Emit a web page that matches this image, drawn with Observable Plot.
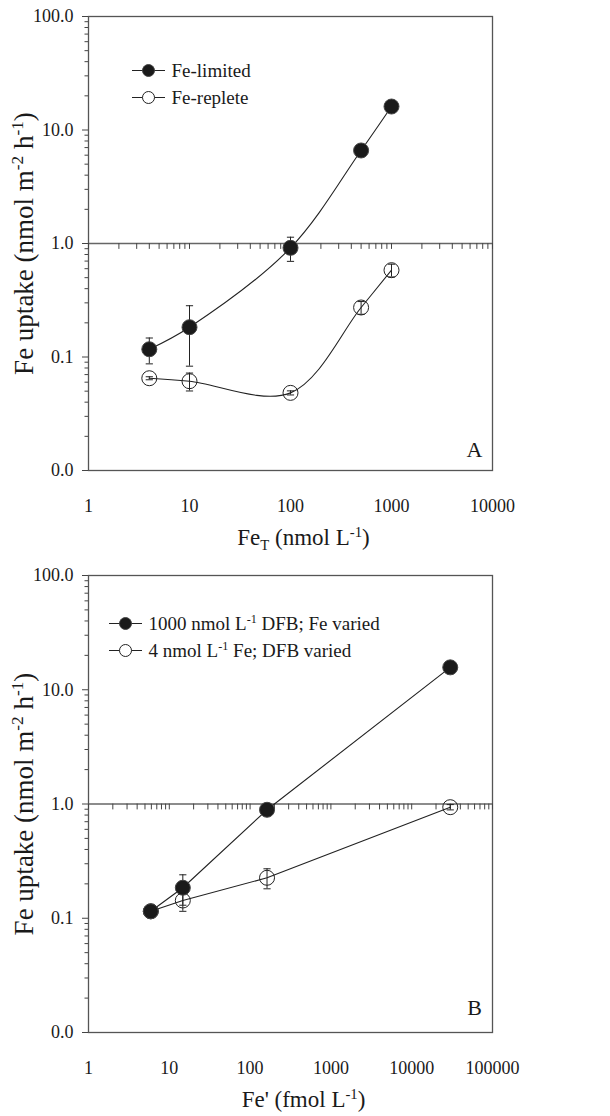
<!DOCTYPE html>
<html>
<head>
<meta charset="utf-8">
<script src="https://cdn.jsdelivr.net/npm/d3@7"></script>
<script src="https://cdn.jsdelivr.net/npm/@observablehq/plot@0.6"></script>
<style>
  html, body { margin: 0; padding: 0; background: #fff; }
  #chart { width: 610px; }
  #chart > div, #chart > svg { display: block; }
</style>
</head>
<body>
<div id="chart"></div>
<script>
// ---------- Data ----------
// Panel A: x = Fe_T (nmol L-1)
const feT = [4, 10, 100, 500, 1000];
const feLimited = [0.117, 0.183, 0.916, 6.6, 16.1];
const feLimitedErr = [0.03, 0.1, 0.22, 0.6, 1.2];
const feReplete = [0.065, 0.0612, 0.0483, 0.273, 0.582];
const feRepleteErr = [0.002, 0.011, 0.002, 0.035, 0.075];

// Panel B: x = Fe' (fmol L-1)
const feFreeDFB = [5.9, 14.7, 162, 30000];
const dfbFixedFeVaried = [0.115, 0.185, 0.89, 15.7];
const dfbFixedFeVariedErr = [0.01, 0.055, 0.05, 0.5];
const feFreeFe = [5.9, 14.7, 162, 30000];
const feFixedDfbVaried = [0.115, 0.143, 0.226, 0.938];
const feFixedDfbVariedErr = [0.002, 0.028, 0.045, 0.05];

// Tick labels
const yTicks = [0.01, 0.1, 1, 10, 100];
const yTickLabels = ["0.0", "0.1", "1.0", "10.0", "100.0"];
const xTicksA = [1, 10, 100, 1000, 10000];
const xTickLabelsA = ["1", "10", "100", "1000", "10000"];
const xTicksB = [1, 10, 100, 1000, 10000, 100000];
const xTickLabelsB = ["1", "10", "100", "1000", "10000", "100000"];

// Text
const legendA = ["Fe-limited", "Fe-replete"];
const legendB = ["1000 nmol L^{-1} DFB; Fe varied", "4 nmol L^{-1} Fe; DFB varied"];
const yTitle = "Fe uptake (nmol m^{-2} h^{-1})";
const xTitleA = "Fe_{T} (nmol L^{-1})";
const xTitleB = "Fe' (fmol L^{-1})";

// ---------- helpers ----------
const FONT = "'Liberation Serif', 'Times New Roman', serif";
const INK = "#1a1a1a";
const hline = { draw(ctx, size) { const r = Math.sqrt(size / Math.PI); ctx.moveTo(-r, 0); ctx.lineTo(r, 0); } };
const tickShape = { draw(ctx, l) { ctx.moveTo(0, 0); ctx.lineTo(0, -l); } };

function minorTicks(lo, hi) {
  const out = [];
  for (let e = Math.log10(lo); e < Math.log10(hi); e++) {
    for (let k = 2; k <= 9; k++) out.push(k * Math.pow(10, e));
  }
  return out;
}
function rows(xs, ys, es) { return xs.map((x, i) => ({ x, y: ys[i], e: es[i] })); }

function richify(svg) {
  d3.select(svg).selectAll("text").each(function () {
    const s = this.textContent;
    if (!/[\^_]\{/.test(s)) return;
    const fs = parseFloat(getComputedStyle(this).fontSize) || 18;
    const el = d3.select(this);
    el.text(null);
    const re = /([\^_])\{([^}]*)\}/g;
    let last = 0, m;
    const parts = [];
    while ((m = re.exec(s))) {
      if (m.index > last) parts.push({ t: s.slice(last, m.index), k: "" });
      parts.push({ t: m[2], k: m[1] });
      last = re.lastIndex;
    }
    if (last < s.length) parts.push({ t: s.slice(last), k: "" });
    let cur = 0;
    for (const p of parts) {
      const target = p.k === "^" ? -0.36 * fs : p.k === "_" ? 0.24 * fs : 0;
      const ts = el.append("tspan").attr("dy", target - cur).text(p.t);
      if (p.k) ts.attr("font-size", 0.64 * fs);
      cur = target;
    }
  });
}

function panel(cfg) {
  const xMinor = minorTicks(cfg.xDomain[0], cfg.xDomain[1]);
  const xAll = cfg.xTicks.concat(xMinor);
  const yMinor = minorTicks(0.01, 100);
  const marks = [
    Plot.frame({ stroke: "#555", strokeWidth: 1.3 }),
    Plot.ruleY([1], { stroke: "#666", strokeWidth: 1.6 }),
    Plot.vector(xAll, { x: d => d, y: () => 1, length: 5, rotate: 180, anchor: "start", shape: tickShape, stroke: "#444", strokeWidth: 1 }),
    Plot.axisY(yTicks, { tickSize: 6, tickPadding: 9, tickFormat: d => yTickLabels[yTicks.indexOf(d)], fontSize: 18, label: null, stroke: "#444" }),
    Plot.axisY(yMinor, { tickSize: 3.5, tickFormat: () => "", label: null, stroke: "#444" }),
    Plot.axisX(cfg.xTicks, { anchor: "bottom", tickSize: 0, tickPadding: 29, tickFormat: d => cfg.xTickLabels[cfg.xTicks.indexOf(d)], fontSize: 18, label: null })
  ];
  for (const s of cfg.series) marks.push(Plot.line(s.data, { x: "x", y: "y", curve: cfg.curve, stroke: "#222", strokeWidth: 1.1 }));
  for (const s of cfg.series) {
    marks.push(Plot.ruleX(s.data, { x: "x", y1: d => d.y - d.e, y2: d => d.y + d.e, stroke: "#222", strokeWidth: 1 }));
    marks.push(Plot.dot(s.data, { x: "x", y: d => d.y - d.e, symbol: hline, r: 3.6, stroke: "#222", fill: "none", strokeWidth: 1 }));
    marks.push(Plot.dot(s.data, { x: "x", y: d => d.y + d.e, symbol: hline, r: 3.6, stroke: "#222", fill: "none", strokeWidth: 1 }));
  }
  const ordered = cfg.series.filter(s => !s.filled).concat(cfg.series.filter(s => s.filled));
  for (const s of ordered) {
    marks.push(Plot.dot(s.data, { x: "x", y: "y", r: 7.5, fill: s.filled ? INK : "none", stroke: s.filled ? "#444" : "#222", strokeWidth: 1 }));
  }
  cfg.series.forEach((s, i) => {
    const dy = cfg.legend.dy[i];
    marks.push(Plot.dot([0], { frameAnchor: "top-left", dx: cfg.legend.dx, dy, symbol: hline, r: 16.5, stroke: "#222", strokeWidth: 1.1 }));
    marks.push(Plot.dot([0], { frameAnchor: "top-left", dx: cfg.legend.dx, dy, r: 6, fill: s.filled ? INK : "white", stroke: s.filled ? "#444" : "#222", strokeWidth: 1 }));
    marks.push(Plot.text([s.label], { frameAnchor: "top-left", dx: cfg.legend.tx, dy, text: d => d, textAnchor: "start", lineAnchor: "middle", fontSize: 19, fill: INK }));
  });
  marks.push(Plot.text([cfg.letter], { frameAnchor: "bottom-right", dx: -18, dy: cfg.letterDy, text: d => d, textAnchor: "middle", lineAnchor: "middle", fontSize: 22, fill: INK }));
  marks.push(Plot.text([yTitle], { frameAnchor: "left", dx: -64, rotate: -90, text: d => d, textAnchor: "middle", lineAnchor: "middle", fontSize: 27, fill: INK }));
  marks.push(Plot.text([cfg.xTitle], { frameAnchor: "bottom", dx: 13, dy: 67, text: d => d, textAnchor: "middle", lineAnchor: "middle", fontSize: 23, fill: INK }));

  return Plot.plot({
    width: 610,
    height: 558,
    marginLeft: 88,
    marginRight: 118,
    marginTop: cfg.marginTop,
    marginBottom: cfg.marginBottom,
    x: { type: "log", domain: cfg.xDomain },
    y: { type: "log", domain: [0.01, 100] },
    style: { fontFamily: FONT, fontSize: "18px", color: INK, background: "white", overflow: "visible" },
    marks
  });
}

const chart = document.getElementById("chart");
const svgA = chart.appendChild(panel({
  xDomain: [1, 10000],
  xTicks: xTicksA,
  xTickLabels: xTickLabelsA,
  curve: "catmull-rom",
  marginTop: 16,
  marginBottom: 88,
  letter: "A",
  letterDy: -21,
  xTitle: xTitleA,
  legend: { dx: 60, tx: 83, dy: [54, 81] },
  series: [
    { label: legendA[0], filled: true, data: rows(feT, feLimited, feLimitedErr) },
    { label: legendA[1], filled: false, data: rows(feT, feReplete, feRepleteErr) }
  ]
}));
const svgB = chart.appendChild(panel({
  xDomain: [1, 100000],
  xTicks: xTicksB,
  xTickLabels: xTickLabelsB,
  curve: "linear",
  marginTop: 17,
  marginBottom: 84,
  letter: "B",
  letterDy: -25,
  xTitle: xTitleB,
  legend: { dx: 37, tx: 60, dy: [48, 75] },
  series: [
    { label: legendB[0], filled: true, data: rows(feFreeDFB, dfbFixedFeVaried, dfbFixedFeVariedErr) },
    { label: legendB[1], filled: false, data: rows(feFreeFe, feFixedDfbVaried, feFixedDfbVariedErr) }
  ]
}));
richify(svgA);
richify(svgB);
</script>
</body>
</html>
